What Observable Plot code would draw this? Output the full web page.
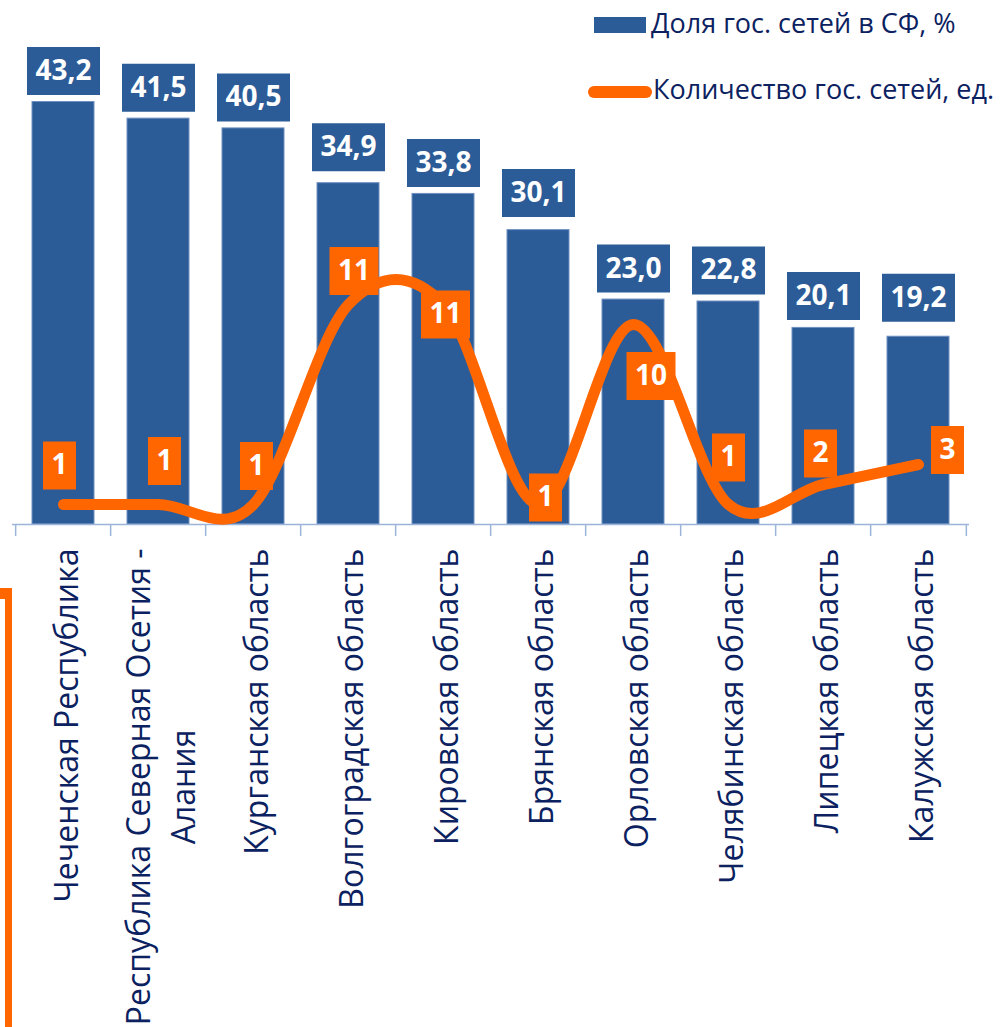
<!DOCTYPE html>
<html>
<head>
<meta charset="utf-8">
<script src="https://cdn.jsdelivr.net/npm/d3@7"></script>
<script src="https://cdn.jsdelivr.net/npm/@observablehq/plot@0.6"></script>
<style>
  html, body { margin: 0; padding: 0; background: #fff; }
  #wrap { position: relative; width: 1005px; height: 1027px; overflow: hidden; font-family: "Open Sans", sans-serif; }
  #chart svg { display: block; }
  .bracket { position: absolute; left: -100px; top: 588px; width: 105px; height: 600px; box-sizing: content-box;
             border-top: 11px solid #FF6600; border-right: 7px solid #FF6600; }
  .lg-swatch { position: absolute; }
  .lg-text { position: absolute; font-size: 27px; line-height: 27px; color: #0B2160; white-space: nowrap; }
</style>
</head>
<body>
<div id="wrap">
  <div id="chart"></div>
  <div class="bracket"></div>
  <div class="lg-swatch" style="left:594px;top:17px;width:52px;height:16px;background:#2B5C98"></div>
  <div class="lg-text" id="lg1" style="left:651px;top:9px"></div>
  <div class="lg-swatch" style="left:588px;top:86px;width:64px;height:12px;border-radius:6px;background:#FF6600"></div>
  <div class="lg-text" id="lg2" style="left:653px;top:75px"></div>
</div>
<script>
// ---- data ----
const regions = [
  "Чеченская Республика",
  "Республика Северная Осетия - Алания",
  "Курганская область",
  "Волгоградская область",
  "Кировская область",
  "Брянская область",
  "Орловская область",
  "Челябинская область",
  "Липецкая область",
  "Калужская область"
];
const tickLabels = [
  "Чеченская Республика",
  "Республика Северная Осетия -\nАлания",
  "Курганская область",
  "Волгоградская область",
  "Кировская область",
  "Брянская область",
  "Орловская область",
  "Челябинская область",
  "Липецкая область",
  "Калужская область"
];
const shares = [43.2, 41.5, 40.5, 34.9, 33.8, 30.1, 23.0, 22.8, 20.1, 19.2];
const counts = [1, 1, 1, 11, 11, 1, 10, 1, 2, 3];
const seriesNames = ["Доля гос. сетей в СФ, %", "Количество гос. сетей, ед."];

// ---- layout / style ----
const W = 1005, H = 1027;
const mL = 12, mR = 36, mT = 35, mB = 503;
const shareMax = 50;          // primary axis max
const countAxisMax = 24.45;   // secondary axis max
const K = shareMax / countAxisMax;
const pxPerShare = (H - mT - mB) / shareMax;
const step = (W - mL - mR) / regions.length;
const blue = "#2B5C98", orange = "#FF6600", navy = "#0B2160", axisColor = "#9DB4D9";
const shareLabelGap = [7, 7, 7, 12, 7, 13, 7, 7, 8, 15]; // px between bar and its label box
const countLabelOffset = [[-4, -39], [6, -43.5], [3, -38.5], [5.5, -33.5], [2, 10],
                          [7, -7], [17.5, 51.5], [0, -47], [-3, -31], [29, -14.5]];

const rows = regions.map((r, i) => ({region: r, tick: tickLabels[i], share: shares[i], count: counts[i], i}));
const fmt = v => d3.format(".1f")(v).replace(".", ",");

const rectSymbol = (w, h) => ({
  draw(ctx) {
    ctx.moveTo(-w / 2, -h / 2); ctx.lineTo(w / 2, -h / 2);
    ctx.lineTo(w / 2, h / 2); ctx.lineTo(-w / 2, h / 2); ctx.closePath();
  }
});
const boxH = 48;

const countMarks = rows.flatMap(d => {
  const [dx, dy] = countLabelOffset[d.i];
  const s = String(d.count);
  const w = 17 + 16 * s.length;
  return [
    Plot.dot([d], {x: "region", y: r => r.count * K, dx, dy, symbol: rectSymbol(w, boxH), fill: orange, stroke: null}),
    Plot.text([d], {x: "region", y: r => r.count * K, dx, dy, text: () => s, fill: "white", fontSize: 28, fontWeight: "bold"})
  ];
});

const chart = Plot.plot({
  width: W, height: H,
  marginLeft: mL, marginRight: mR, marginTop: mT, marginBottom: mB,
  style: {fontFamily: "'Open Sans', sans-serif", background: "transparent", overflow: "visible"},
  x: {type: "band", domain: regions, paddingInner: 0.352, paddingOuter: 0.176, axis: null},
  y: {domain: [0, shareMax], axis: null},
  marks: [
    Plot.barY(rows, {x: "region", y: "share", fill: blue, stroke: "#6F8FC0", strokeWidth: 1}),
    Plot.dot(rows, {x: "region", y: d => d.share + (shareLabelGap[d.i] + boxH / 2) / pxPerShare,
                    symbol: rectSymbol(73, boxH), fill: blue, stroke: null}),
    Plot.text(rows, {x: "region", y: d => d.share + (shareLabelGap[d.i] + boxH / 2) / pxPerShare,
                     text: d => fmt(d.share), fill: "white", fontSize: 28, fontWeight: "bold"}),
    Plot.ruleY([0], {stroke: axisColor, strokeWidth: 1.5}),
    Plot.ruleX(regions, {x: d => d, y1: 0, y2: -12 / pxPerShare, dx: -step / 2, stroke: axisColor, strokeWidth: 1.5}),
    Plot.ruleX(regions.slice(-1), {x: d => d, y1: 0, y2: -12 / pxPerShare, dx: step / 2, stroke: axisColor, strokeWidth: 1.5}),
    Plot.line(rows, {x: "region", y: d => d.count * K, curve: "cardinal", stroke: orange, strokeWidth: 11,
                     strokeLinecap: "round", strokeLinejoin: "round"}),
    ...countMarks,
    Plot.text(rows, {x: "region", y: 0, text: "tick", rotate: -90, textAnchor: "end", lineAnchor: "middle",
                     lineHeight: 1.4, dy: 24, fontSize: 32, fill: navy})
  ]
});
document.getElementById("chart").appendChild(chart);
document.getElementById("lg1").textContent = seriesNames[0];
document.getElementById("lg2").textContent = seriesNames[1];

// center the second line of a two-line tick label on the first line
chart.querySelectorAll("text").forEach(t => {
  const ts = t.querySelectorAll("tspan");
  if (ts.length === 2) {
    const L = ts[0].getComputedTextLength();
    ts[1].setAttribute("text-anchor", "middle");
    ts[1].setAttribute("x", -L / 2);
  }
});
</script>
</body>
</html>
